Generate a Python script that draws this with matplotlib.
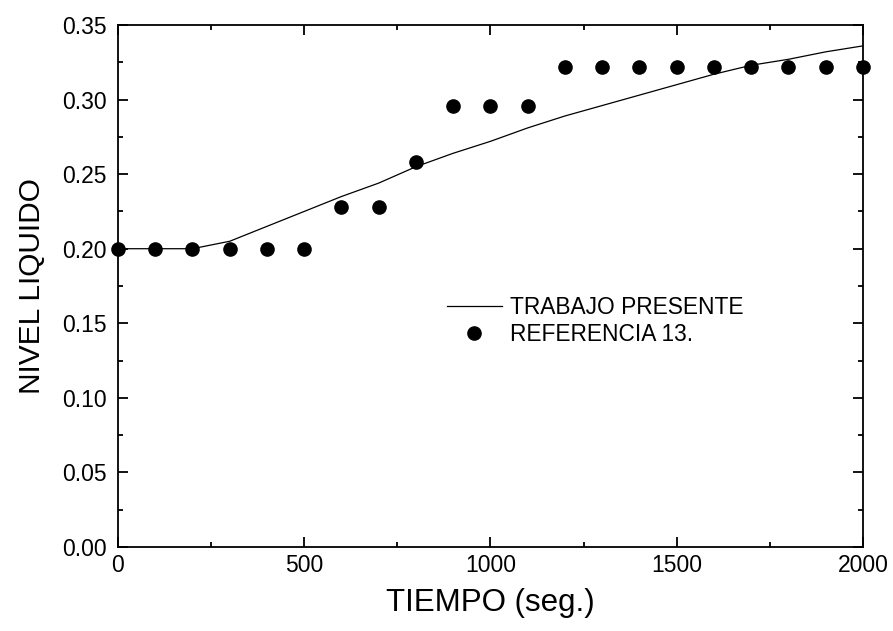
import matplotlib
matplotlib.use('Agg')
import matplotlib.pyplot as plt
from matplotlib.ticker import MultipleLocator

plt.rcParams['font.family'] = ['Liberation Sans', 'DejaVu Sans']

# Datos
tiempo_modelo = [0, 100, 200, 300, 400, 500, 600, 700, 800, 900, 1000,
                 1100, 1200, 1300, 1400, 1500, 1600, 1700, 1800, 1900, 2000]
nivel_modelo = [0.200, 0.200, 0.200, 0.205, 0.215, 0.225, 0.235, 0.244, 0.255,
                0.264, 0.272, 0.281, 0.289, 0.296, 0.303, 0.310, 0.317, 0.323,
                0.327, 0.332, 0.336]

tiempo_ref = [0, 100, 200, 300, 400, 500, 600, 700, 800, 900, 1000, 1100,
              1200, 1300, 1400, 1500, 1600, 1700, 1800, 1900, 2000]
nivel_ref = [0.200, 0.200, 0.200, 0.200, 0.200, 0.200, 0.228, 0.228, 0.258,
             0.296, 0.296, 0.296, 0.322, 0.322, 0.322, 0.322, 0.322, 0.322,
             0.322, 0.322, 0.322]

fig = plt.figure(figsize=(8.93, 6.31), dpi=100)
ax = fig.add_axes([0.1321, 0.1331, 0.8343, 0.8273])

ax.plot(tiempo_modelo, nivel_modelo, color='black', lw=0.9, label='TRABAJO PRESENTE')
ax.plot(tiempo_ref, nivel_ref, 'o', color='black', ms=9.5, clip_on=False,
        label='REFERENCIA 13.')

ax.set_xlim(0, 2000)
ax.set_ylim(0, 0.35)
ax.xaxis.set_major_locator(MultipleLocator(500))
ax.xaxis.set_minor_locator(MultipleLocator(250))
ax.yaxis.set_major_locator(MultipleLocator(0.05))
ax.yaxis.set_minor_locator(MultipleLocator(0.025))
ax.yaxis.set_major_formatter(plt.FormatStrFormatter('%.2f'))

ax.tick_params(which='both', direction='in', top=True, right=True,
               labelsize=16.5, width=1.3)
ax.tick_params(which='major', length=7)
ax.tick_params(which='minor', length=3.5)
ax.tick_params(axis='x', which='major', pad=5)
ax.tick_params(axis='y', which='major', pad=8)
for s in ax.spines.values():
    s.set_linewidth(1.3)

ax.set_xlabel('TIEMPO (seg.)', fontsize=22.5, labelpad=8)
ax.set_ylabel('NIVEL LIQUIDO', fontsize=21.5, labelpad=12)

ax.legend(loc='center left', bbox_to_anchor=(0.4416, 0.433), frameon=False,
          fontsize=16.4, borderpad=0, borderaxespad=0, handlelength=2.4,
          handletextpad=0.35, labelspacing=0.15, numpoints=1)

fig.savefig('out.png', dpi=100)
